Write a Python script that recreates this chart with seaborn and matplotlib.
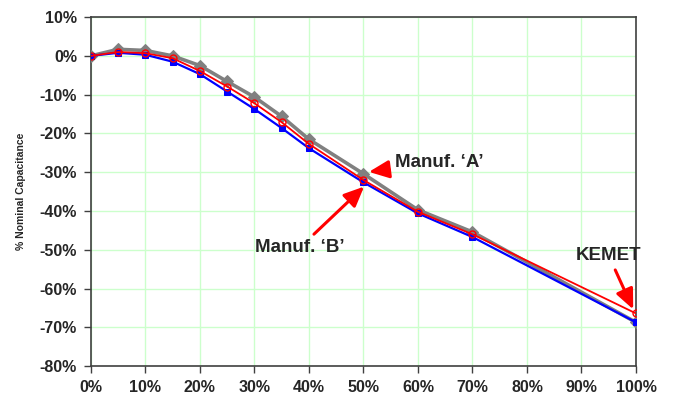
import numpy as np
import pandas as pd
import matplotlib
matplotlib.use("Agg")
import matplotlib.pyplot as plt
import seaborn as sns

# % of rated voltage
voltage = [0, 5, 10, 15, 20, 25, 30, 35, 40, 50, 60, 70, 100]
manuf_a = [0, 1.7, 1.4, 0.0, -2.5, -6.6, -10.6, -15.6, -21.5, -30.4, -39.7, -45.4, -68.7]
kemet = [0, 1.0, 0.7, -0.6, -3.9, -7.9, -12.2, -17.1, -22.7, -32.0, -40.2, -46.0, -66.4]
manuf_b = [0, 0.8, 0.3, -1.5, -4.7, -9.2, -13.7, -18.6, -23.8, -32.6, -40.6, -46.7, -68.7]

x_ticks = list(range(0, 101, 10))
y_ticks = list(range(-80, 11, 10))

sns.set_style("white")
plt.rcParams["font.family"] = ["Liberation Sans", "DejaVu Sans"]

fig = plt.figure(figsize=(6.73, 3.98), dpi=100)
ax = fig.add_axes([0.135, 0.080, 0.810, 0.877])

df_a = pd.DataFrame({"v": voltage, "c": manuf_a})
df_k = pd.DataFrame({"v": voltage, "c": kemet})
df_b = pd.DataFrame({"v": voltage, "c": manuf_b})

sns.lineplot(data=df_a, x="v", y="c", ax=ax, color="#808080", lw=2.6,
             marker="D", markersize=6.5, markeredgecolor="#808080", zorder=3)
sns.lineplot(data=df_b, x="v", y="c", ax=ax, color="#0000ff", lw=1.6,
             marker="s", markersize=5, markeredgecolor="#0000ff", zorder=4)
sns.lineplot(data=df_k, x="v", y="c", ax=ax, color="#ff0000", lw=1.3,
             marker="o", markersize=5, markerfacecolor="none",
             markeredgecolor="#ff0000", markeredgewidth=1.0, zorder=5)

ax.set_xlim(0, 100)
ax.set_ylim(-80, 10)
ax.set_xticks(x_ticks)
ax.set_yticks(y_ticks)
ax.set_xticklabels([f"{t}%" for t in x_ticks], fontsize=11.5, fontweight="bold")
ax.set_yticklabels([f"{t}%" for t in y_ticks], fontsize=11.5, fontweight="bold")
ax.grid(True, color="#ccffcc", lw=1.0)
ax.set_axisbelow(True)
ax.tick_params(axis="both", direction="out", length=5, width=1,
               color="#404040", left=True, bottom=True, pad=5)
for s in ax.spines.values():
    s.set_color("#404040")
    s.set_linewidth(1.2)

ax.set_xlabel("")
ax.set_ylabel("% Nominal Capacitance", fontsize=7.5, fontweight="bold", labelpad=10)

arrow = dict(arrowstyle="-|>,head_length=0.9,head_width=0.4", color="#ff0000", lw=2.2)
ax.annotate("Manuf. \u2018A\u2019", xy=(50.5, -30.0), xytext=(55.8, -27.6),
            fontsize=13.5, fontweight="bold", va="center", ha="left", arrowprops=arrow)
ax.annotate("Manuf. \u2018B\u2019", xy=(50.5, -33.2), xytext=(46.5, -49.5),
            fontsize=13.5, fontweight="bold", va="center", ha="right", arrowprops=arrow)
ax.annotate("KEMET", xy=(99.7, -66.0), xytext=(95.0, -51.5),
            fontsize=13.5, fontweight="bold", va="center", ha="center", arrowprops=arrow)

fig.savefig("out.png", dpi=100)
